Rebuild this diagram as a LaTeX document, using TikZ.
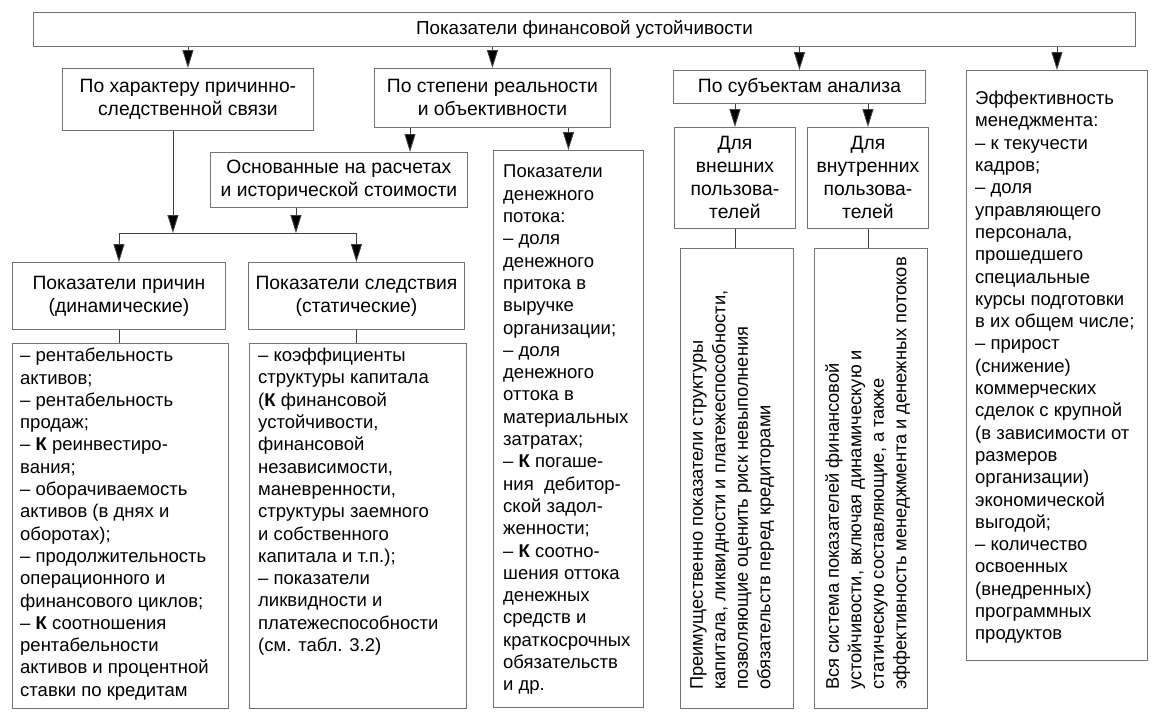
\documentclass[tikz,border=0pt]{standalone}
\usepackage{fontspec}
\setmainfont{Liberation Sans}
\usetikzlibrary{arrows.meta}
\begin{document}
\begin{tikzpicture}[x=1pt,y=-1pt,
 box/.style={draw=black!55, line width=0.9pt, inner sep=0pt, anchor=north west},
 hdr/.style={font=\fontsize{19.3}{23}\selectfont, align=center},
 ttl/.style={font=\fontsize{18.8}{23}\selectfont, align=center},
 body/.style={font=\fontsize{18.5}{22.3}\selectfont, align=left, inner sep=0pt, anchor=north west},
 rot/.style={font=\fontsize{18.3}{22.5}\selectfont, align=left, inner sep=0pt, rotate=90, anchor=north west},
 arr/.style={draw=black!75, line width=0.9pt, -{Triangle[length=18pt,width=11pt,fill=black]}},
 ln/.style={draw=black!75, line width=0.9pt}]
\useasboundingbox (0,0) rectangle (1151,718);
\fill[white] (0,0) rectangle (1151,718);

% level 0
\node[box, ttl, minimum width=1102pt, minimum height=34pt] (top) at (33,12) {Показатели финансовой устойчивости};

% level 1
\node[box, hdr, minimum width=251pt, minimum height=62pt] (A) at (62,68) {По характеру причинно-\\следственной связи};
\node[box, hdr, minimum width=236pt, minimum height=59pt] (B) at (374,68) {По степени реальности\\и объективности};
\node[box, hdr, minimum width=252pt, minimum height=33pt] (C) at (673,70) {По субъектам анализа};
\node[box, minimum width=181pt, minimum height=590pt] (D) at (966,70) {};

% level 2
\node[box, hdr, minimum width=257pt, minimum height=55pt] (E) at (210,152) {Основанные на расчетах\\и исторической стоимости};
\node[box, minimum width=150pt, minimum height=557pt] (F) at (493,150) {};
\node[box, hdr, minimum width=121pt, minimum height=101pt] (I) at (674,127) {Для\\внешних\\пользова-\\телей};
\node[box, hdr, minimum width=121pt, minimum height=101pt] (J) at (807,127) {Для\\внутренних\\пользова-\\телей};

% level 3
\node[box, hdr, minimum width=213pt, minimum height=67pt] (G) at (12,262) {Показатели причин\\(динамические)};
\node[box, hdr, minimum width=216pt, minimum height=67pt] (H) at (248,262) {Показатели следствия\\(статические)};

% detail boxes
\node[box, minimum width=216pt, minimum height=365pt] (G2) at (12,343) {};
\node[box, minimum width=217pt, minimum height=365pt] (H2) at (249,343) {};
\node[box, minimum width=113pt, minimum height=460pt] (I2) at (680,248) {};
\node[box, minimum width=113pt, minimum height=460pt] (J2) at (814,248) {};

% texts
\node[body] (Dt) at (975,91) {Эффективность\\менеджмента:\\– к текучести\\кадров;\\– доля\\управляющего\\персонала,\\прошедшего\\специальные\\курсы подготовки\\в их общем числе;\\– прирост\\(снижение)\\коммерческих\\сделок с крупной\\(в зависимости от\\размеров\\организации)\\экономической\\выгодой;\\– количество\\освоенных\\(внедренных)\\программных\\продуктов};

\node[body] (Ft) at (503,165) {Показатели\\денежного\\потока:\\– доля\\денежного\\притока в\\выручке\\организации;\\– доля\\денежного\\оттока в\\материальных\\затратах;\\– \textbf{К} погаше-\\ния \ дебитор-\\ской задол-\\женности;\\– \textbf{К} соотно-\\шения оттока\\денежных\\средств и\\краткосрочных\\обязательств\\и др.};

\node[body] (G2t) at (20,348) {– рентабельность\\активов;\\– рентабельность\\продаж;\\– \textbf{К} реинвестиро-\\вания;\\– оборачиваемость\\активов (в днях и\\оборотах);\\– продолжительность\\операционного и\\финансового циклов;\\– \textbf{К} соотношения\\рентабельности\\активов и процентной\\ставки по кредитам};

\node[body] (H2t) at (258,348) {– коэффициенты\\структуры капитала\\(\textbf{К} финансовой\\устойчивости,\\финансовой\\независимости,\\маневренности,\\структуры заемного\\и собственного\\капитала и т.п.);\\– показатели\\ликвидности и\\платежеспособности\\(см. табл. 3.2)};

\node[rot] (I2t) at (690,690) {Преимущественно показатели структуры\\капитала, ликвидности и платежеспособности,\\позволяющие оценить риск невыполнения\\обязательств перед кредиторами};
\node[rot] (J2t) at (825,690) {Вся система показателей финансовой\\устойчивости, включая динамическую и\\статическую составляющие, а также\\эффективность менеджмента и денежных потоков};

% connectors
\draw[arr] (top.south -| A.north) -- (A.north);
\draw[arr] (top.south -| B.north) -- (B.north);
\draw[arr] (top.south -| C.north) -- (C.north);
\draw[arr] (top.south -| D.north) -- (D.north);

\draw[arr] ([xshift=36pt]B.south west) -- ([xshift=36pt]B.south west |- E.north);
\draw[arr] (B.south -| F.north) -- (F.north);

\draw[arr] (C.south -| I.north) -- (I.north);
\draw[arr] (C.south -| J.north) -- (J.north);

\coordinate (bus) at (0,233);
\draw[ln] (bus -| G.north) -- (bus -| H.north);
\draw[arr] ([xshift=-15pt]A.south) -- ([xshift=-15pt]A.south |- bus);
\draw[arr] ([xshift=-43pt]E.south) -- ([xshift=-43pt]E.south |- bus);
\draw[arr] (bus -| G.north) -- (G.north);
\draw[arr] (bus -| H.north) -- (H.north);

\draw[ln] (G.south) -- (G.south |- G2.north);
\draw[ln] (H.south) -- (H.south |- H2.north);
\draw[ln] (I.south) -- (I.south |- I2.north);
\draw[ln] (J.south) -- (J.south |- J2.north);
\end{tikzpicture}
\end{document}
